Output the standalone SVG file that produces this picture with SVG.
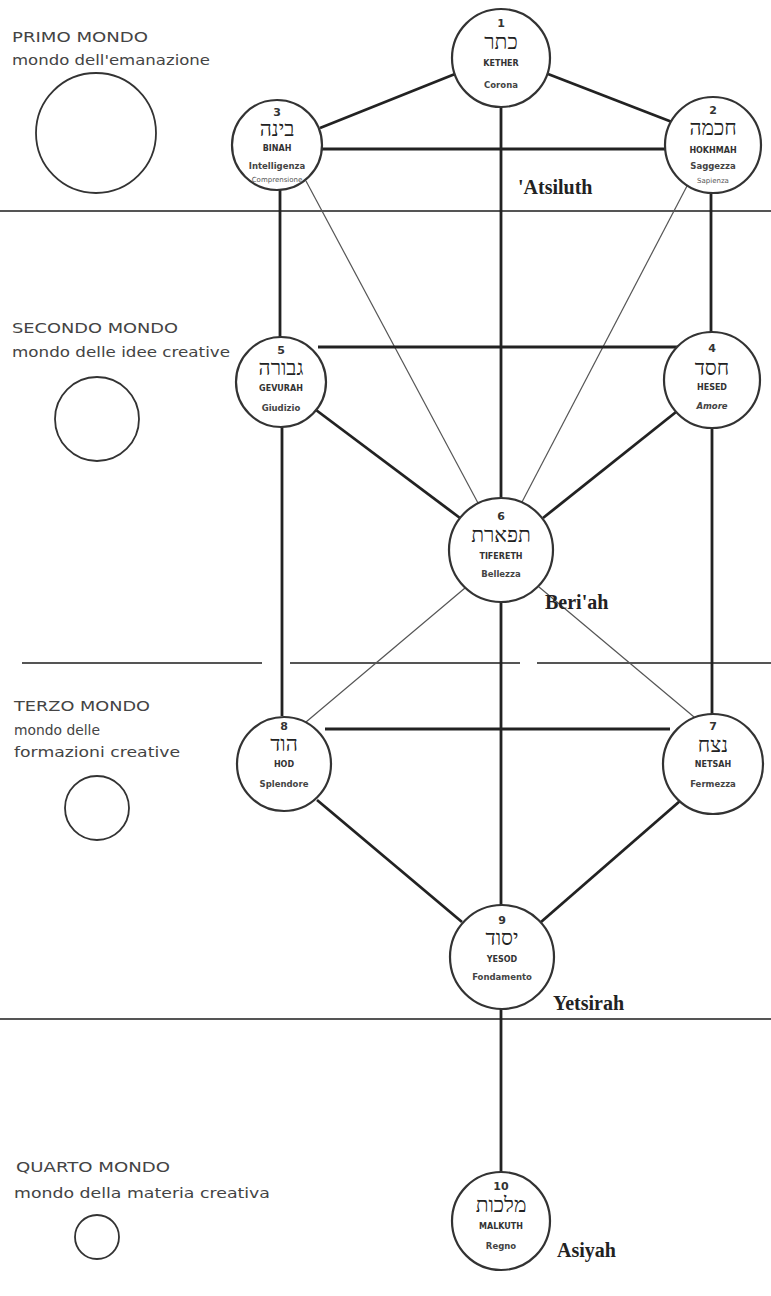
<svg xmlns="http://www.w3.org/2000/svg" width="771" height="1296" viewBox="0 0 771 1296">
<style>
.bg{fill:#ffffff}
.sep{stroke:#555;stroke-width:2;fill:none}
.thick{stroke:#222;stroke-width:2.8;fill:none}
.thin{stroke:#555;stroke-width:1.2;fill:none}
.node{fill:#fff;stroke:#333;stroke-width:2.2}
.world{fill:#fff;stroke:#333;stroke-width:1.8}
.num{font-family:"DejaVu Sans",sans-serif;font-size:11px;font-weight:bold;fill:#333;text-anchor:middle;dominant-baseline:central}
.heb{font-family:"Liberation Serif","DejaVu Serif",serif;font-size:21px;fill:#222;text-anchor:middle;dominant-baseline:central}
.en{font-family:"DejaVu Sans",sans-serif;font-size:8px;font-weight:bold;fill:#333;text-anchor:middle;dominant-baseline:central}
.it{font-family:"DejaVu Sans",sans-serif;font-size:8.5px;font-weight:bold;fill:#444;text-anchor:middle;dominant-baseline:central}
.sm{font-family:"DejaVu Sans",sans-serif;font-size:7px;fill:#555;text-anchor:middle;dominant-baseline:central}
.lbl{font-family:"DejaVu Sans",sans-serif;font-size:14px;fill:#444}
.wname{font-family:"Liberation Serif",serif;font-size:20px;font-weight:bold;fill:#222}
</style>
<rect class="bg" x="0" y="0" width="771" height="1296"/>
<g id="separators">
<line class="sep" x1="0" y1="211" x2="771" y2="211"/>
<line class="sep" x1="22" y1="663" x2="262" y2="663"/>
<line class="sep" x1="290" y1="663" x2="520" y2="663"/>
<line class="sep" x1="537" y1="663" x2="771" y2="663"/>
<line class="sep" x1="0" y1="1019" x2="771" y2="1019"/>
</g>
<g id="worlds">
<g id="world1"><text class="lbl" x="12" y="42" textLength="136" lengthAdjust="spacingAndGlyphs">PRIMO MONDO</text><text class="lbl" x="12" y="65" textLength="198" lengthAdjust="spacingAndGlyphs">mondo dell'emanazione</text><circle class="world" cx="96" cy="133" r="60"/></g>
<g id="world2"><text class="lbl" x="12" y="333" textLength="166" lengthAdjust="spacingAndGlyphs">SECONDO MONDO</text><text class="lbl" x="12" y="357" textLength="218" lengthAdjust="spacingAndGlyphs">mondo delle idee creative</text><circle class="world" cx="97" cy="419" r="42"/></g>
<g id="world3"><text class="lbl" x="14" y="711" textLength="136" lengthAdjust="spacingAndGlyphs">TERZO MONDO</text><text class="lbl" x="14" y="735" textLength="86" lengthAdjust="spacingAndGlyphs">mondo delle</text><text class="lbl" x="14" y="757" textLength="166" lengthAdjust="spacingAndGlyphs">formazioni creative</text><circle class="world" cx="97" cy="808" r="32"/></g>
<g id="world4"><text class="lbl" x="16" y="1172" textLength="154" lengthAdjust="spacingAndGlyphs">QUARTO MONDO</text><text class="lbl" x="14" y="1198" textLength="256" lengthAdjust="spacingAndGlyphs">mondo della materia creativa</text><circle class="world" cx="97" cy="1237" r="22"/></g>
</g>
<g id="connectors">
<line class="thick" x1="320" y1="128" x2="455" y2="74"/>
<line class="thick" x1="548" y1="74" x2="672" y2="122"/>
<line class="thick" x1="321" y1="149" x2="666" y2="149"/>
<line class="thick" x1="501" y1="106" x2="501" y2="498"/>
<line class="thick" x1="501" y1="602" x2="501" y2="905"/>
<line class="thick" x1="501" y1="1009" x2="501" y2="1172"/>
<line class="thick" x1="280" y1="190" x2="280" y2="337"/>
<line class="thick" x1="711" y1="193" x2="711" y2="332"/>
<line class="thin" x1="306" y1="181" x2="478" y2="503"/>
<line class="thin" x1="687" y1="186" x2="522" y2="502"/>
<line class="thick" x1="318" y1="347" x2="690" y2="347"/>
<line class="thick" x1="316" y1="410" x2="460" y2="518"/>
<line class="thick" x1="676" y1="412" x2="543" y2="518"/>
<line class="thick" x1="282" y1="427" x2="282" y2="716"/>
<line class="thick" x1="712" y1="428" x2="712" y2="717"/>
<line class="thin" x1="465" y1="588" x2="306" y2="722"/>
<line class="thin" x1="539" y1="587" x2="700" y2="722"/>
<line class="thick" x1="325" y1="729" x2="670" y2="729"/>
<line class="thick" x1="317" y1="800" x2="462" y2="922"/>
<line class="thick" x1="680" y1="801" x2="541" y2="922"/>
</g>
<g id="n1"><circle class="node" cx="501" cy="58" r="49"/><text class="num" x="501" y="23">1</text><text class="heb" x="501" y="42">כתר</text><text class="en" x="501" y="63">KETHER</text><text class="it" x="501" y="85">Corona</text></g>
<g id="n3"><circle class="node" cx="277" cy="145" r="45"/><text class="num" x="277" y="112">3</text><text class="heb" x="277" y="129">בינה</text><text class="en" x="277" y="148">BINAH</text><text class="it" x="277" y="166">Intelligenza</text><text class="sm" x="277" y="180">Comprensione</text></g>
<g id="n2"><circle class="node" cx="713" cy="145" r="48"/><text class="num" x="713" y="110">2</text><text class="heb" x="713" y="128">חכמה</text><text class="en" x="713" y="150">HOKHMAH</text><text class="it" x="713" y="166">Saggezza</text><text class="sm" x="713" y="181">Sapienza</text></g>
<g id="n5"><circle class="node" cx="281" cy="382" r="45"/><text class="num" x="281" y="350">5</text><text class="heb" x="281" y="368">גבורה</text><text class="en" x="281" y="388">GEVURAH</text><text class="it" x="281" y="408">Giudizio</text></g>
<g id="n4"><circle class="node" cx="712" cy="380" r="48"/><text class="num" x="712" y="348">4</text><text class="heb" x="712" y="368">חסד</text><text class="en" x="712" y="387">HESED</text><text class="it" x="712" y="406" font-style="italic">Amore</text></g>
<g id="n6"><circle class="node" cx="501" cy="550" r="52"/><text class="num" x="501" y="516">6</text><text class="heb" x="501" y="535">תפארת</text><text class="en" x="501" y="556">TIFERETH</text><text class="it" x="501" y="574">Bellezza</text></g>
<g id="n8"><circle class="node" cx="284" cy="764" r="47"/><text class="num" x="284" y="726">8</text><text class="heb" x="284" y="744">הוד</text><text class="en" x="284" y="764">HOD</text><text class="it" x="284" y="784">Splendore</text></g>
<g id="n7"><circle class="node" cx="713" cy="764" r="50"/><text class="num" x="713" y="726">7</text><text class="heb" x="713" y="745">נצח</text><text class="en" x="713" y="764">NETSAH</text><text class="it" x="713" y="784">Fermezza</text></g>
<g id="n9"><circle class="node" cx="502" cy="957" r="52"/><text class="num" x="502" y="920">9</text><text class="heb" x="502" y="938">יסוד</text><text class="en" x="502" y="959">YESOD</text><text class="it" x="502" y="977">Fondamento</text></g>
<g id="n10"><circle class="node" cx="501" cy="1221" r="49"/><text class="num" x="501" y="1186">10</text><text class="heb" x="501" y="1205">מלכות</text><text class="en" x="501" y="1226">MALKUTH</text><text class="it" x="501" y="1246">Regno</text></g>
<g id="world-names">
<text class="wname" x="518" y="194">'Atsiluth</text>
<text class="wname" x="545" y="609">Beri'ah</text>
<text class="wname" x="553" y="1010">Yetsirah</text>
<text class="wname" x="557" y="1257">Asiyah</text>
</g>
</svg>
